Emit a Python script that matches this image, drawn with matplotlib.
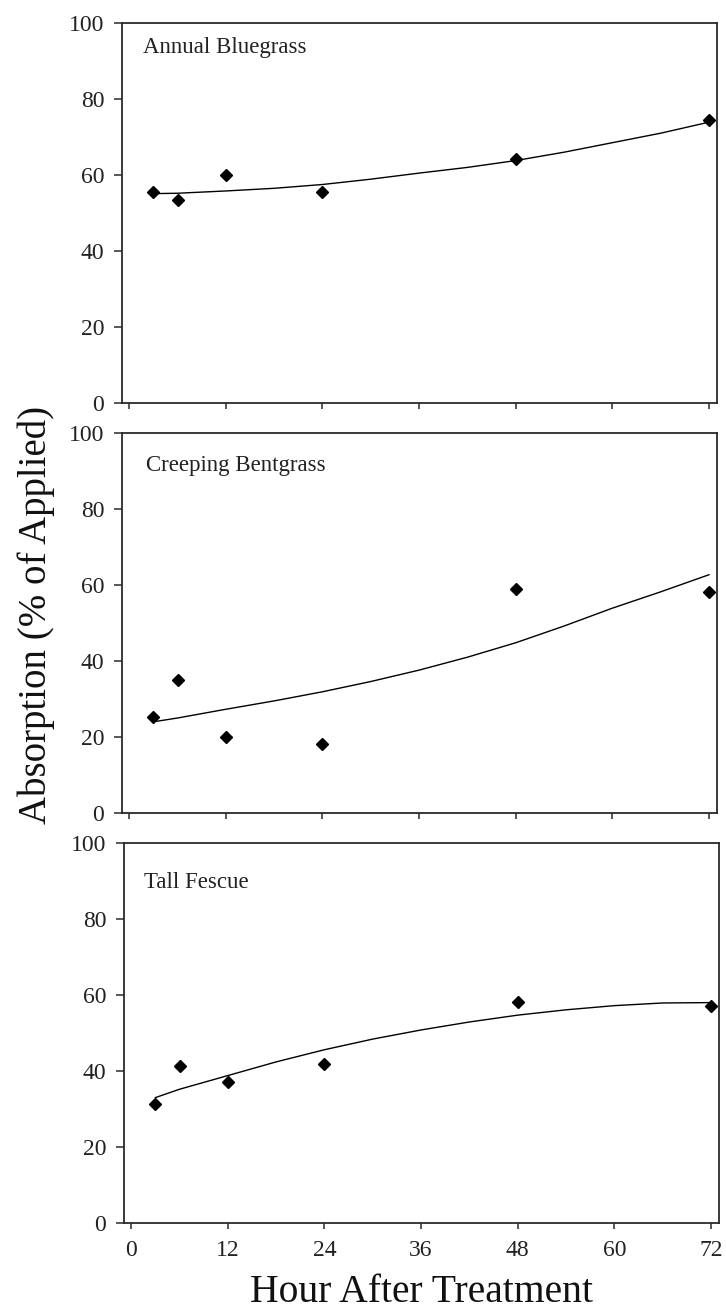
import matplotlib
matplotlib.use("Agg")
import matplotlib.pyplot as plt

# ---- data ----
panel_titles = ["Annual Bluegrass", "Creeping Bentgrass", "Tall Fescue"]
hours = [3, 6, 12, 24, 48, 72]
bluegrass = [55.4, 53.3, 60.1, 55.4, 64.1, 74.4]
bentgrass = [25.3, 35.1, 20.0, 18.1, 59.0, 58.2]
fescue = [31.2, 41.2, 37.1, 41.9, 58.1, 57.1]

fit_hours = [3, 6, 12, 18, 24, 30, 36, 42, 48, 54, 60, 66, 72]
bluegrass_fit = [55.1, 55.2, 55.8, 56.5, 57.5, 58.9, 60.5, 62.0, 63.8, 66.0, 68.5, 71.0, 73.9]
bentgrass_fit = [24.0, 25.0, 27.3, 29.5, 31.9, 34.6, 37.6, 41.0, 44.8, 49.2, 53.9, 58.2, 62.7]
fescue_fit = [33.0, 35.2, 38.8, 42.4, 45.6, 48.4, 50.8, 52.9, 54.7, 56.1, 57.2, 57.9, 58.0]

x_ticks = [0, 12, 24, 36, 48, 60, 72]
y_ticks = [0, 20, 40, 60, 80, 100]
x_label = "Hour After Treatment"
y_label = "Absorption (% of Applied)"

# ---- figure ----
W, H = 726, 1314
fig = plt.figure(figsize=(W / 100, H / 100), dpi=100)
serif = ["Liberation Serif", "DejaVu Serif"]
plt.rcParams["font.family"] = serif

# panel boxes in pixels: (left, top, right, bottom), title offset from top, title x
boxes = [(122, 23, 717, 403, 25, 143),
         (122, 433, 717, 813, 32, 146),
         (124, 843, 719, 1223, 39, 144)]
points = [bluegrass, bentgrass, fescue]
fits = [bluegrass_fit, bentgrass_fit, fescue_fit]
spine_col = "#2a2a2a"

for i, (l, t, r, b, toff, tx) in enumerate(boxes):
    ax = fig.add_axes([l / W, 1 - b / H, (r - l) / W, (b - t) / H])
    ax.plot(fit_hours, fits[i], color="black", lw=1.0, zorder=2)
    ax.plot(hours, points[i], linestyle="none", marker="D", markersize=6.2,
            color="black", zorder=3, clip_on=False)
    ax.set_xlim(-0.9, 73)
    ax.set_ylim(0, 100)
    ax.set_xticks(x_ticks)
    ax.set_yticks(y_ticks)
    for s in ax.spines.values():
        s.set_linewidth(1.3)
        s.set_color(spine_col)
    ax.tick_params(axis="y", direction="out", length=5.8, width=1.1,
                   color=spine_col, labelsize=17, pad=7, labelcolor="#222222")
    ax.tick_params(axis="x", direction="out", length=4.3, width=1.1,
                   color=spine_col, labelsize=17, pad=8, labelcolor="#222222")
    if i < 2:
        ax.tick_params(axis="x", labelbottom=False)
    ax.text((tx - l) / (r - l), 1 - toff / (b - t), panel_titles[i],
            transform=ax.transAxes, ha="left", va="center", fontsize=16.5,
            color="#222222")

fig.text(36 / W, 1 - 615 / H, y_label, rotation=90, ha="center", va="center",
         fontsize=28, color="#111111")
fig.text(421 / W, 1 - 1293 / H, x_label, ha="center", va="center",
         fontsize=28.5, color="#111111")

fig.savefig("out.png", dpi=100)
